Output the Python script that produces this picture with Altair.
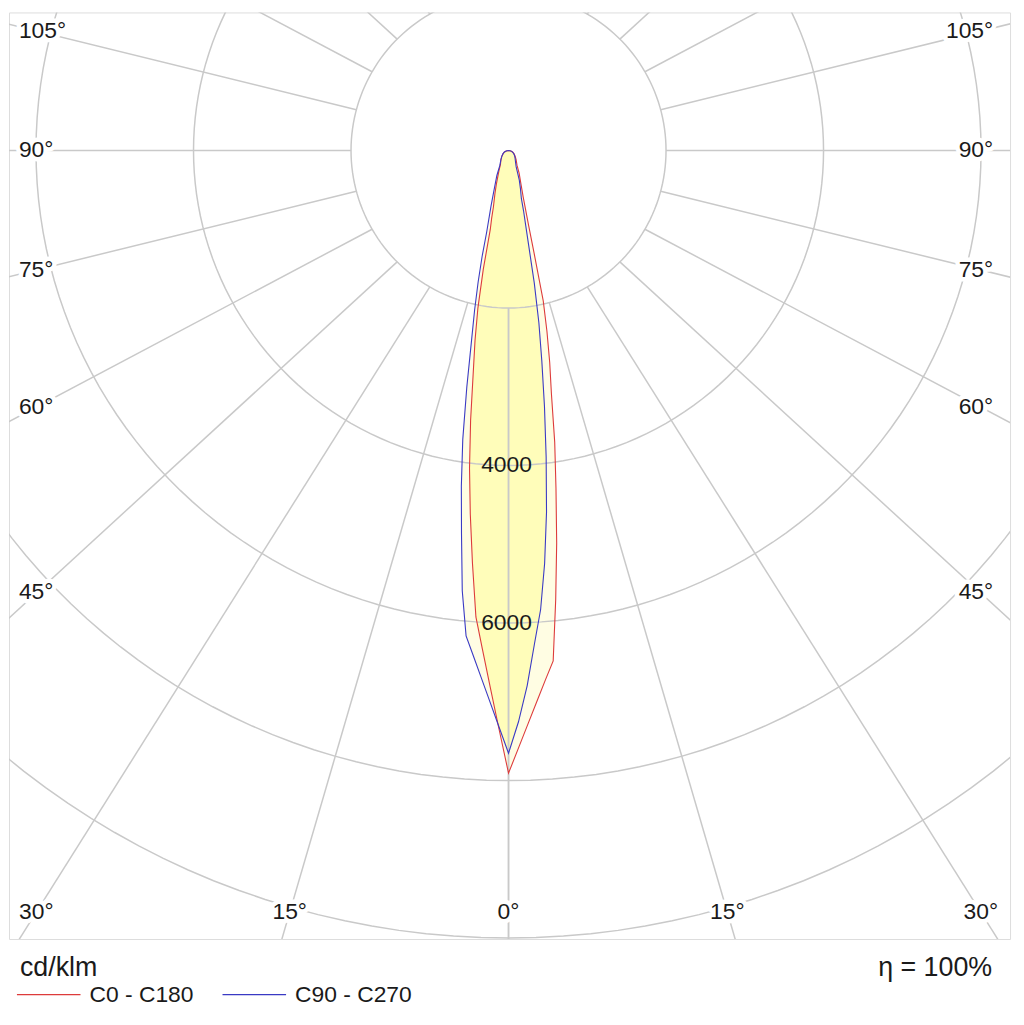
import altair as alt
import pandas as pd

# ---------------- data ----------------
# gamma angle (deg from nadir) and luminous intensity in cd/klm per half plane
gamma = [0, 1, 2, 3, 4, 5, 6, 7, 8, 9, 10, 11, 12, 13, 14, 15, 17.5, 20, 25, 30, 40, 50, 60, 70, 80, 90]
c0    = [7907, 7574, 7269, 6991, 6735, 6507, 5732, 5018, 4330, 3749, 3137, 2740, 2346, 1960, 1340, 990, 618, 470, 320, 215, 150, 110, 80, 55, 30, 0]
c180  = [7907, 7315, 6795, 6339, 5937, 5257, 4644, 4065, 3460, 2868, 2450, 2038, 1540, 1032, 885, 740, 574, 450, 290, 205, 150, 110, 80, 55, 30, 0]
c90   = [7654, 7255, 6798, 6278, 5843, 5262, 4616, 3921, 3279, 2701, 2220, 1713, 1229, 957, 789, 630, 500, 400, 230, 180, 130, 100, 75, 50, 30, 0]
c270  = [7654, 7303, 6983, 6693, 6428, 6186, 5620, 4900, 4305, 3714, 3050, 2466, 2073, 1717, 1387, 1071, 740, 540, 350, 222, 150, 110, 80, 55, 30, 0]

planes = ["C0 - C180", "C90 - C270"]
grid_radii = [2000, 4000, 6000, 8000, 10000]
ring_labels = [4000, 6000]
spoke_angles = list(range(0, 181, 15))
label_angles = [0, 15, 30, 45, 60, 75, 90, 105]
unit_text = "cd/klm"
eta_text = "η = 100%"

# ---------------- style / layout ----------------
FONT = "Liberation Sans"
GRID = "#C9C9C9"
FRAME = "#9C9C9C"
RED = "#DD3B3B"
BLUE = "#3A3AC4"
FILL_ONE = "#FFFDE3"
FILL_BOTH = "#FFFDBA"
TXT = "#1a1a1a"

S = 0.0793            # px per cd/klm
CX, CY = 503.0, 139.0  # luminaire position inside the plot area (px)
W, H = 1008, 933
X0, X1 = -CX / S, (W - CX) / S
Y0, Y1 = (CY - H) / S, CY / S
R0 = grid_radii[0]
K = 1.09              # spoke slant as drawn in the original diagram

xs = alt.Scale(domain=[X0, X1], nice=False, zero=False)
ys = alt.Scale(domain=[Y0, Y1], nice=False, zero=False)
X = lambda f: alt.X(f, type="quantitative", scale=xs, axis=None)
Y = lambda f: alt.Y(f, type="quantitative", scale=ys, axis=None)

# ---------------- tables ----------------
rows = []
for g, a, b, c, d in zip(gamma, c0, c180, c90, c270):
    rows.append({"side": 1, "gamma": g, planes[0]: a, planes[1]: c})
    rows.append({"side": -1, "gamma": g, planes[0]: b, planes[1]: d})
wide = pd.DataFrame(rows)

circles = pd.DataFrame([{"r": r, "phi": p} for r in grid_radii for p in range(0, 361, 2)])
spokes = pd.DataFrame([{"a": a, "side": s} for a in spoke_angles for s in (-1, 1)])
labels = pd.DataFrame([{"a": a, "side": s} for a in label_angles for s in ((1,) if a == 0 else (-1, 1))])
rings = pd.DataFrame({"r": ring_labels})

polar = dict(
    x="datum.side * datum.I * sin(datum.gamma * PI / 180)",
    y="-datum.I * cos(datum.gamma * PI / 180)",
    ord="datum.side * datum.gamma",
)

long_base = alt.Chart(wide).transform_fold(planes, as_=["plane", "I"]).transform_calculate(**polar)

fills = long_base.mark_line(fill=FILL_ONE, strokeOpacity=0, strokeWidth=0).encode(
    x=X("x"), y=Y("y"), order="ord:Q", detail="plane:N"
)

inter = alt.Chart(wide).transform_calculate(
    I=f"min(datum['{planes[0]}'], datum['{planes[1]}'])"
).transform_calculate(**polar).mark_line(fill=FILL_BOTH, strokeOpacity=0, strokeWidth=0).encode(
    x=X("x"), y=Y("y"), order="ord:Q"
)

circle_layer = alt.Chart(circles).transform_calculate(
    x="datum.r * sin(datum.phi * PI / 180)",
    y="-datum.r * cos(datum.phi * PI / 180)",
).mark_line(clip=True, color=GRID, strokeWidth=1.5).encode(
    x=X("x"), y=Y("y"), detail="r:N", order="phi:Q"
)

spoke_layer = alt.Chart(spokes).transform_calculate(
    x0=f"datum.side * {R0} * sin(datum.a * PI / 180)",
    y0=f"-{R0} * cos(datum.a * PI / 180)",
    ux=f"datum.side * {K} * sin(datum.a * PI / 180)",
    uy="-cos(datum.a * PI / 180)",
).transform_calculate(
    L="sqrt(datum.ux * datum.ux + datum.uy * datum.uy)"
).transform_calculate(
    x1="datum.x0 + 40000 * datum.ux / datum.L",
    y1="datum.y0 + 40000 * datum.uy / datum.L",
).mark_rule(clip=True, color=GRID, strokeWidth=1.5).encode(
    x=X("x0"), y=Y("y0"), x2="x1:Q", y2="y1:Q"
)

curves = long_base.mark_line(strokeWidth=1.1).encode(
    x=X("x"), y=Y("y"), order="ord:Q",
    color=alt.Color("plane:N", scale=alt.Scale(domain=planes, range=[RED, BLUE]),
                    legend=alt.Legend(orient="none", legendX=7, legendY=956, direction="horizontal",
                                      title=None, symbolType="stroke", symbolSize=4096,
                                      symbolStrokeWidth=1.2, labelFontSize=23, labelFont=FONT,
                                      labelColor=TXT, labelOffset=8, columnPadding=26, padding=0)),
)

ring_text = alt.Chart(rings).transform_calculate(y="-datum.r").mark_text(
    font=FONT, fontSize=23, color=TXT, align="center", baseline="middle", dx=-2
).encode(x=alt.XDatum(0, type="quantitative", scale=xs, axis=None),
         y=Y("y"), text=alt.Text("r:Q", format="d"))

FXL, FXR, FYB = CX / S, (W - CX) / S, (H - CY) / S
XL, YB = 475 / S, 767 / S
LXL, LXR = (10 - CX) / S, (991 - CX) / S

lab_base = alt.Chart(labels).transform_calculate(
    sa="sin(datum.a * PI / 180)", ca="cos(datum.a * PI / 180)"
).transform_calculate(
    txf=f"datum.sa > 1e-6 ? ((datum.side < 0 ? {FXL} : {FXR}) - {R0} * datum.sa) / ({K} * datum.sa) : 1e9",
    tyf=f"datum.ca > 1e-6 ? ({FYB} - {R0} * datum.ca) / datum.ca : 1e9",
    tl=f"datum.sa > 1e-6 ? ({XL} - {R0} * datum.sa) / ({K} * datum.sa) : 0",
    tb=f"datum.ca > 1e-6 ? ({YB} - {R0} * datum.ca) / datum.ca : 0",
    label="datum.a + '°'",
).transform_calculate(
    edge="datum.txf < datum.tyf ? (datum.side < 0 ? 'left' : 'right') : 'bottom'"
).transform_calculate(
    lx=f"datum.edge == 'left' ? {LXL} : datum.edge == 'right' ? {LXR} : datum.side * ({R0} * datum.sa + datum.tb * {K} * datum.sa)",
    ly=f"datum.edge == 'bottom' ? {-YB} : -({R0} * datum.ca + datum.tl * datum.ca)",
)

label_layers = []
for edge, align in (("left", "left"), ("right", "right"), ("bottom", "center")):
    b = lab_base.transform_filter(f"datum.edge == '{edge}'")
    enc = dict(x=X("lx"), y=Y("ly"), text="label:N")
    label_layers.append(b.mark_text(font=FONT, fontSize=23, align=align, baseline="middle",
                                    color="white", stroke="white", strokeWidth=9,
                                    strokeJoin="round").encode(**enc))
    label_layers.append(b.mark_text(font=FONT, fontSize=23, align=align, baseline="middle",
                                    color=TXT).encode(**enc))

unit_layer = alt.Chart(pd.DataFrame({"t": [unit_text]})).mark_text(
    font=FONT, fontSize=27, color=TXT, align="left", baseline="alphabetic"
).encode(x=alt.value(11), y=alt.value(970), text="t:N")

eta_layer = alt.Chart(pd.DataFrame({"t": [eta_text]})).mark_text(
    font=FONT, fontSize=27, color=TXT, align="right", baseline="alphabetic"
).encode(x=alt.value(990), y=alt.value(970), text="t:N")

chart = alt.layer(
    fills, inter, circle_layer, spoke_layer, curves, ring_text, *label_layers, unit_layer, eta_layer
).properties(
    width=W, height=H,
    padding={"left": 1, "top": 1, "right": 6, "bottom": 72},
    autosize=alt.AutoSizeParams(type="none"),
).configure_view(
    stroke=FRAME, strokeWidth=2
).configure(font=FONT)

chart.save("out.html", embed_options={"renderer": "svg", "actions": False})
